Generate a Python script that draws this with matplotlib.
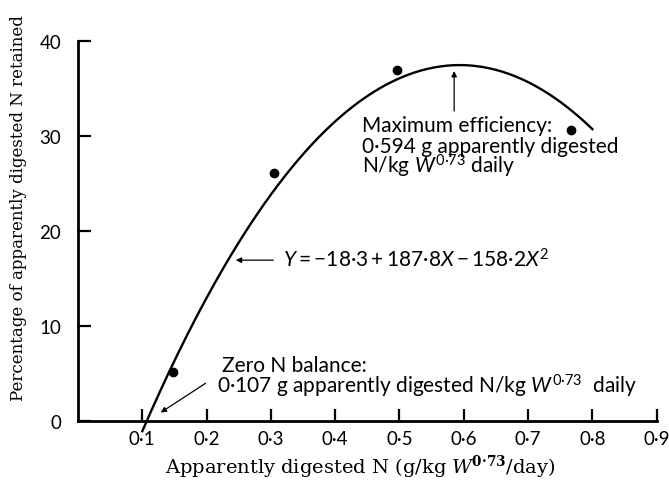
import numpy as np
import matplotlib
matplotlib.use("Agg")
import matplotlib.pyplot as plt

# fitted regression: Y = -18.3 + 187.8X - 158.2X^2
coef = [-158.2, 187.8, -18.3]
x_fit_range = [0.10, 0.80]

# observed points
x_obs = [0.147, 0.305, 0.496, 0.767]
y_obs = [5.1, 26.1, 36.9, 30.6]

xticks = [0.1, 0.2, 0.3, 0.4, 0.5, 0.6, 0.7, 0.8, 0.9]
xticklabels = ['0·1', '0·2', '0·3', '0·4', '0·5', '0·6', '0·7', '0·8', '0·9']
yticks = [0, 10, 20, 30, 40]

sans = 'Lato'
serif = 'DejaVu Serif'
plt.rcParams['mathtext.fontset'] = 'custom'
plt.rcParams['mathtext.rm'] = sans
plt.rcParams['mathtext.it'] = sans + ':italic'
plt.rcParams['mathtext.sf'] = serif + ':italic'
plt.rcParams['mathtext.tt'] = serif + ':bold'

fig = plt.figure(figsize=(6.69, 4.85), dpi=100)
ax = fig.add_axes([0.1166, 0.1305, 0.865, 0.7835])

xs = np.linspace(x_fit_range[0], x_fit_range[1], 200)
ax.plot(xs, np.polyval(coef, xs), color='black', lw=1.7, clip_on=False)
ax.plot(x_obs, y_obs, 'o', color='black', ms=6, clip_on=False)

ax.set_xlim(0, 0.9)
ax.set_ylim(0, 40)
ax.spines['top'].set_visible(False)
ax.spines['right'].set_visible(False)
for s in ['left', 'bottom']:
    ax.spines[s].set_linewidth(2)
ax.set_xticks(xticks)
ax.set_xticklabels(xticklabels)
ax.set_yticks(yticks)
ax.tick_params(direction='in', length=9, width=1.6, labelsize=13.5)
ax.tick_params(axis='x', pad=7)
ax.tick_params(axis='y', pad=12)
for lab in ax.get_xticklabels() + ax.get_yticklabels():
    lab.set_fontfamily(sans)

ax.set_xlabel(r'Apparently digested N (g/kg $\mathsf{W}^{\mathtt{0·73}}$/day)',
              fontfamily=serif, fontsize=14, labelpad=4)
ax.xaxis.label.set_x(0.487)
ax.set_ylabel('Percentage of apparently digested N retained',
              fontfamily=serif, fontsize=12, labelpad=9)
ax.yaxis.label.set_y(0.562)

tk = dict(fontfamily=sans, fontsize=15, va='baseline', ha='left')
arr = dict(arrowstyle='-|>', color='black', lw=0.9, mutation_scale=8)

# equation
ax.text(0.319, 16.2, r'$Y=-18·3+187·8X-158·2X^2$', **tk)
ax.annotate('', xy=(0.241, 16.9), xytext=(0.308, 16.9), arrowprops=arr)

# maximum efficiency
ax.text(0.441, 30.5, 'Maximum efficiency:', **tk)
ax.text(0.441, 28.3, '0·594 g apparently digested', **tk)
ax.text(0.441, 26.1, r'N/kg $\mathit{W}^{0·73}$ daily', **tk)
ax.annotate('', xy=(0.585, 37.1), xytext=(0.585, 32.3), arrowprops=arr)

# zero N balance
ax.text(0.2235, 5.2, 'Zero N balance:', **tk)
ax.text(0.2157, 3.0, r'0·107 g apparently digested N/kg $\mathit{W}^{0·73}$  daily', **tk)
ax.annotate('', xy=(0.125, 0.7), xytext=(0.202, 4.1), arrowprops=arr,
            annotation_clip=False)

fig.savefig('out.png', dpi=100)
